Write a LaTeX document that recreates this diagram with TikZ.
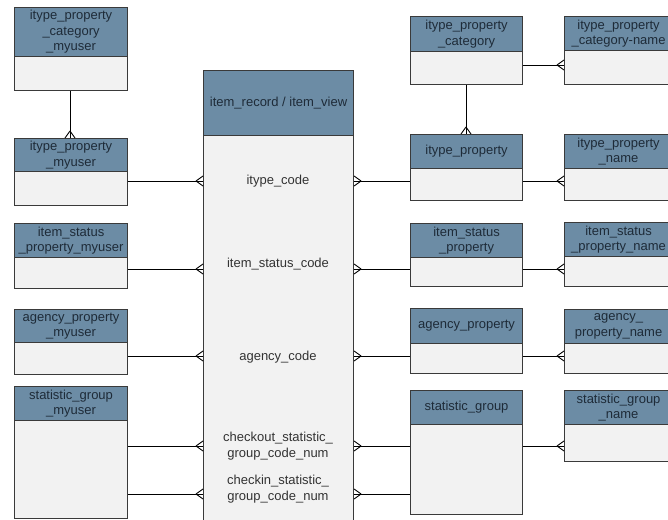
\documentclass[tikz,border=0pt]{standalone}
\usepackage{fontspec}
\setmainfont{Liberation Sans}
\usetikzlibrary{calc}
\definecolor{hdrblue}{HTML}{6C8CA5}
\definecolor{bodygray}{HTML}{F2F2F2}
\definecolor{edgegray}{HTML}{3A3A3A}
\definecolor{txtdark}{HTML}{1E2B38}
\tikzset{
  hdr/.style={draw=edgegray, fill=hdrblue, line width=1.1pt, inner sep=0pt, align=center, text=txtdark, font=\fontsize{13}{15.5}\selectfont},
  bdy/.style={draw=edgegray, fill=bodygray, line width=1.1pt, inner sep=0pt},
  conn/.style={draw=black, line width=0.9pt},
  lbl/.style={align=center, text=black!80, font=\fontsize{13}{15.5}\selectfont, inner sep=0pt}
}
\newcommand\ent[7]{%
  \node[bdy, minimum width={(#4-#2)*1pt}, minimum height={(#6-#5)*1pt}, anchor=north west] (#1) at (#2,#5) {};
  \node[hdr, minimum width={(#4-#2)*1pt}, minimum height={(#5-#3)*1pt}, anchor=north west] (#1h) at (#2,#3) {#7};
}
% crow's foot on a horizontal line: #1 = end point, #2 = +1 if line comes from the right, -1 if from the left
\newcommand\crowh[2]{%
  \draw[conn] ($(#1)+(#2*7,0)$) -- ($(#1)+(0,5)$) ($(#1)+(#2*7,0)$) -- ($(#1)+(0,-5)$);
}
\newcommand\crowv[1]{%
  \draw[conn] ($(#1)+(0,-7)$) -- ($(#1)+(5,0)$) ($(#1)+(0,-7)$) -- ($(#1)+(-5,0)$);
}
\begin{document}
\begin{tikzpicture}[x=1pt,y=-1pt]
\useasboundingbox (0,0) rectangle (668,519);
\fill[white] (0,0) rectangle (668,519);
% central entity
\ent{ir}{203}{70}{353}{135}{530}{item\_record / item\_view}
% left column
\ent{ipcm}{14}{7}{127}{56}{90}{itype\_property\\\_category\\\_myuser}
\ent{ipm}{14}{138}{127}{171}{205}{itype\_property\\\_myuser}
\ent{ispm}{14}{223}{127}{257}{288}{item\_status\\\_property\_myuser}
\ent{apm}{14}{309}{127}{342}{374}{agency\_property\\\_myuser}
\ent{sgm}{14}{386}{127}{420}{518}{statistic\_group\\\_myuser}
% right columns
\ent{ipc}{410}{16}{522}{51}{84}{itype\_property\\\_category}
\ent{ipcn}{564}{16}{672}{50}{84}{itype\_property\\\_category-name}
\ent{ip}{410}{134}{522}{168}{200}{itype\_property}
\ent{ipn}{564}{134}{672}{168}{200}{itype\_property\\\_name}
\ent{isp}{410}{223}{522}{257}{286}{item\_status\\\_property}
\ent{ispn}{564}{222}{672}{256}{286}{item\_status\\\_property\_name}
\ent{ap}{410}{308}{522}{343}{373}{agency\_property}
\ent{apn}{564}{309}{672}{343}{373}{agency\_\\property\_name}
\ent{sg}{410}{390}{522}{424}{514}{statistic\_group}
\ent{sgn}{564}{390}{672}{424}{461}{statistic\_group\\\_name}
% labels inside central entity
\node[lbl] (l1) at (278,181) {itype\_code};
\node[lbl] (l2) at (278,264) {item\_status\_code};
\node[lbl] (l3) at (278,357) {agency\_code};
\node[lbl] (l4) at (278,446) {checkout\_statistic\_\\group\_code\_num};
\node[lbl] (l5) at (278,489) {checkin\_statistic\_\\group\_code\_num};
% row coordinates
\coordinate (r0) at (0,65);
\coordinate (r1) at (0,181);
\coordinate (r2) at (0,269);
\coordinate (r3) at (0,356);
\coordinate (r4) at (0,446);
\coordinate (r5) at (0,494);
\coordinate (cA) at (70,0);
\coordinate (cB) at (466,0);
% vertical connectors
\draw[conn] (ipcm.south -| cA) -- (ipmh.north -| cA);
\crowv{ipmh.north -| cA}
\draw[conn] (ipc.south -| cB) -- (iph.north -| cB);
\crowv{iph.north -| cB}
% top right
\draw[conn] (ipc.east |- r0) -- (ipcn.west |- r0);
\crowh{ipcn.west |- r0}{-1}
% row 1
\draw[conn] (ipm.east |- r1) -- (ir.west |- r1);
\crowh{ir.west |- r1}{-1}
\draw[conn] (ir.east |- r1) -- (ip.west |- r1);
\crowh{ir.east |- r1}{1}
\draw[conn] (ip.east |- r1) -- (ipn.west |- r1);
\crowh{ipn.west |- r1}{-1}
% row 2
\draw[conn] (ispm.east |- r2) -- (ir.west |- r2);
\crowh{ir.west |- r2}{-1}
\draw[conn] (ir.east |- r2) -- (isp.west |- r2);
\crowh{ir.east |- r2}{1}
\draw[conn] (isp.east |- r2) -- (ispn.west |- r2);
\crowh{ispn.west |- r2}{-1}
% row 3
\draw[conn] (apm.east |- r3) -- (ir.west |- r3);
\crowh{ir.west |- r3}{-1}
\draw[conn] (ir.east |- r3) -- (ap.west |- r3);
\crowh{ir.east |- r3}{1}
\draw[conn] (ap.east |- r3) -- (apn.west |- r3);
\crowh{apn.west |- r3}{-1}
% row 4
\draw[conn] (sgm.east |- r4) -- (ir.west |- r4);
\crowh{ir.west |- r4}{-1}
\draw[conn] (ir.east |- r4) -- (sg.west |- r4);
\crowh{ir.east |- r4}{1}
\draw[conn] (sg.east |- r4) -- (sgn.west |- r4);
\crowh{sgn.west |- r4}{-1}
% row 5
\draw[conn] (sgm.east |- r5) -- (ir.west |- r5);
\crowh{ir.west |- r5}{-1}
\draw[conn] (ir.east |- r5) -- (sg.west |- r5);
\crowh{ir.east |- r5}{1}
\end{tikzpicture}
\end{document}
